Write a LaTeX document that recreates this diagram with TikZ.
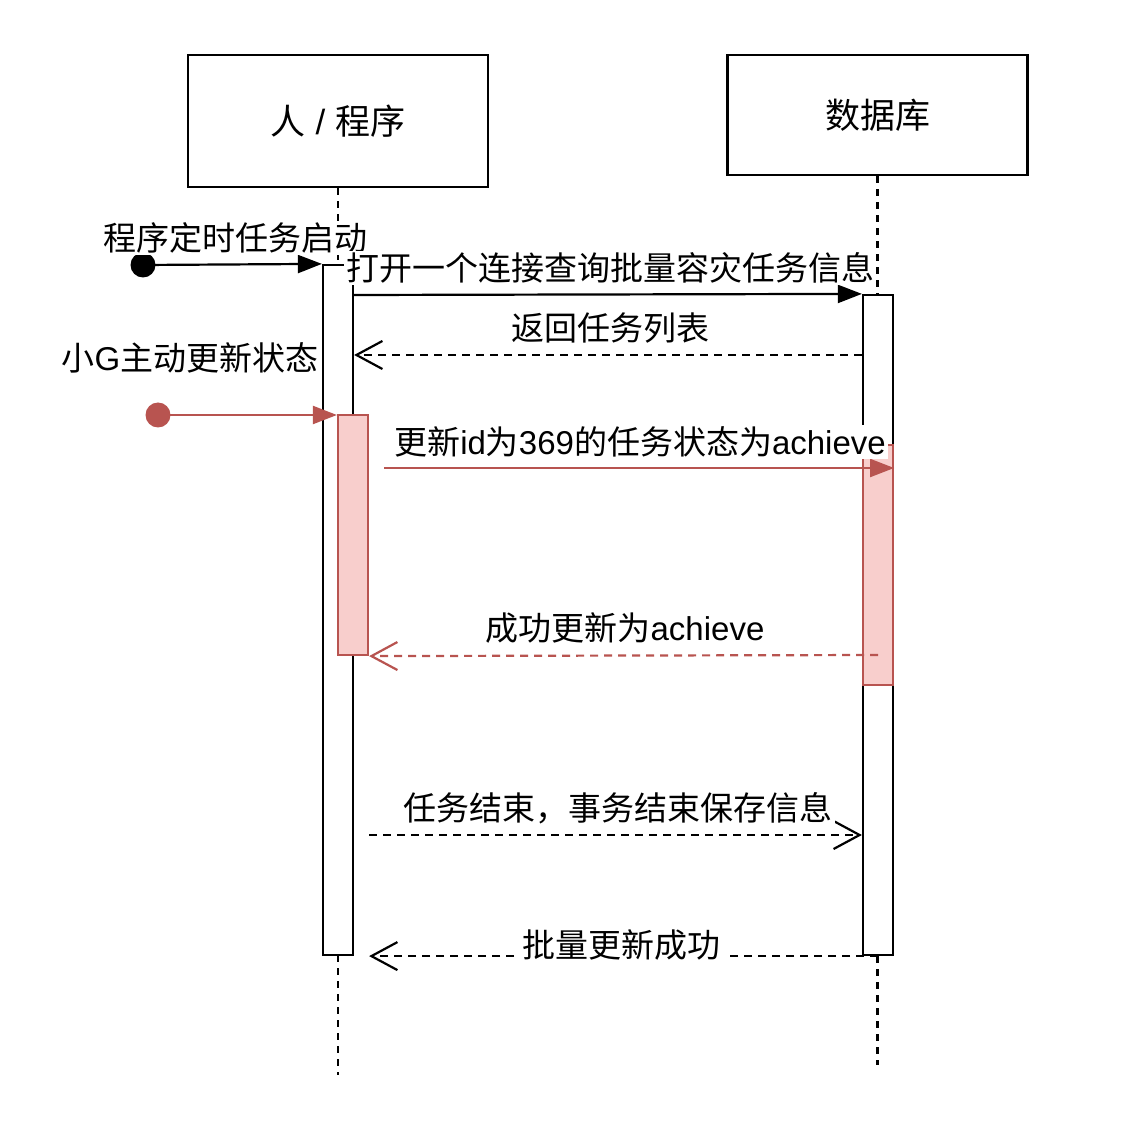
\documentclass[tikz,border=0pt]{standalone}
\usepackage{fontspec}
\setmainfont{Liberation Sans}
\newfontfamily\cjk{Noto Sans CJK SC}
\usetikzlibrary{arrows.meta}
\definecolor{rd}{HTML}{B85450}
\definecolor{rdfill}{HTML}{F8CECC}
\begin{document}
\begin{tikzpicture}[x=0.5pt,y=-0.5pt,
  lbl/.style={font=\fontsize{16.5}{19}\selectfont, fill=white, inner sep=1pt},
  head/.style={draw, line width=1.1pt, minimum width=150pt, font=\fontsize{17.5}{21}\selectfont, inner sep=0pt},
  life/.style={line width=1.1pt, dash pattern=on 3.5pt off 3pt},
  bar/.style={draw, fill=white, line width=1.1pt, minimum width=15pt, inner sep=0pt},
  rbar/.style={draw=rd, fill=rdfill, line width=1.1pt, minimum width=15pt, inner sep=0pt},
  msg/.style={line width=1.1pt, -{Triangle[length=12pt,width=9pt]}},
  ret/.style={line width=1.1pt, dash pattern=on 4pt off 3pt, -{Straight Barb[length=13pt,width=14pt,line width=1.1pt]}},
  dot/.style={circle, inner sep=0pt, minimum size=12.5pt}
]
\useasboundingbox (0,0) rectangle (1130,1128);

% participants
\node[head, minimum height=66pt] (p) at (338,121) {{\cjk 人} / {\cjk 程序}};
\node[head, minimum height=60pt] (d) at (877.5,115) {\cjk 数据库};
\coordinate (pend) at (338,1075);
\coordinate (dend) at (877.5,1065);
\draw[life] (p.south) -- (pend);
\draw[life] (d.south) -- (dend);

% activation bars
\node[bar, minimum height=345pt] (barL) at (338,610) {};
\node[bar, minimum height=330pt] (barR) at (878,625) {};
\node[rbar, minimum height=120pt] (redL) at (353,535) {};
\node[rbar, minimum height=120pt] (redR) at (878,565) {};

% start dots
\node[dot, fill=black] (s1) at (143,265) {};
\node[dot, fill=rd] (s2) at (158,415) {};

% messages
\draw[msg] (s1.center) -- (barL.north west);
\draw[msg] (barL.east |- 0,295) -- (barR.north west);
\draw[ret] (barR.west |- 0,355) -- (barL.east |- 0,355);
\draw[msg, draw=rd, fill=rd] (s2.center) -- (redL.west |- s2.center);
\draw[msg, draw=rd, fill=rd] ([xshift=7.5pt]redL.east |- 0,468) -- (redR.east |- 0,468);
\draw[ret, draw=rd] (redR.center |- 0,655) -- (redL.south east);
\draw[ret] ([xshift=7.5pt]barL.east |- 0,835) -- (barR.west |- 0,835);
\draw[ret] (barR.south) -- ([xshift=7.5pt]barL.south east);

% labels
\node[lbl] (l0) at (235,238) {\cjk 程序定时任务启动};
\node[lbl] (l1) at (610,268) {\cjk 打开一个连接查询批量容灾任务信息};
\node[lbl] (l2) at (610,328) {\cjk 返回任务列表};
\node[lbl] (l3) at (190,358) {{\cjk 小}G{\cjk 主动更新状态}};
\node[lbl] (l4) at (640,442) {{\cjk 更新}id{\cjk 为}369{\cjk 的任务状态为}achieve};
\node[lbl] (l5) at (625,628) {{\cjk 成功更新为}achieve};
\node[lbl] (l6) at (618,808) {\cjk 任务结束，事务结束保存信息};
\node[lbl, inner xsep=3pt] (l7) at (621,945) {\cjk 批量更新成功};
\end{tikzpicture}
\end{document}
